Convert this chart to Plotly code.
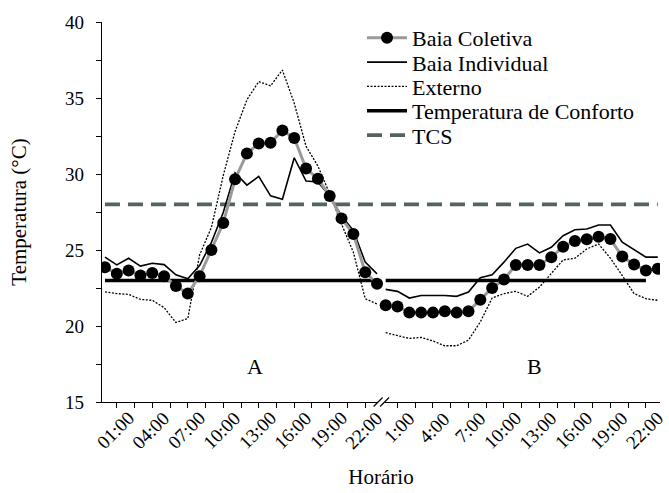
import plotly.graph_objects as go

# ---------------- data ----------------
coletiva_A = [23.87, 23.43, 23.65, 23.32, 23.48, 23.28, 22.63, 22.13, 23.28, 25.0, 26.77, 29.65,
              31.35, 32.0, 32.05, 32.87, 32.37, 30.36, 29.69, 28.56, 27.08, 26.05, 23.54, 22.78]
coletiva_B = [21.36, 21.29, 20.88, 20.88, 20.88, 20.97, 20.88, 20.97, 21.73, 22.5, 23.06, 24.02,
              24.02, 24.02, 24.53, 25.22, 25.59, 25.7, 25.87, 25.72, 24.57, 24.04, 23.65, 23.76]
individual_A = [24.53, 24.02, 24.46, 23.94, 24.13, 24.04, 23.37, 23.11, 23.98, 25.5, 27.47, 30.08,
                29.27, 29.84, 28.56, 28.34, 31.07, 29.54, 29.47, 28.56, 27.25, 26.27, 24.2, 23.43]
individual_B = [22.41, 22.28, 21.84, 22.01, 22.01, 22.01, 21.95, 22.24, 23.17, 23.37, 24.2, 25.11,
                25.39, 24.81, 25.18, 25.94, 26.33, 26.38, 26.64, 26.64, 25.51, 25.0, 24.53, 24.53]
externo_A = [22.24, 22.13, 22.08, 21.75, 21.69, 21.21, 20.23, 20.49, 24.67, 26.49, 29.9, 32.8,
             34.88, 36.08, 35.8, 36.84, 34.66, 31.82, 30.52, 28.7, 26.7, 24.85, 21.8, 21.45]
externo_B = [19.56, 19.36, 19.18, 19.25, 19.01, 18.7, 18.7, 19.07, 20.27, 21.84, 22.13, 22.28,
             21.95, 22.56, 23.43, 24.35, 24.46, 25.07, 25.39, 24.46, 23.32, 22.13, 21.8, 21.69]
conforto_A = [23.0] * 24
conforto_B = [23.0] * 23 + [None]
tcs_value = 28.0

labels_A = ["01:00", "04:00", "07:00", "10:00", "13:00", "16:00", "19:00", "22:00"]
labels_B = ["1:00", "4:00", "7:00", "10:00", "13:00", "16:00", "19:00", "22:00"]
y_ticks = [15, 20, 25, 30, 35, 40]

# ---------------- positions along the category axis ----------------
xA = [i for i in range(24)]
xB = [23.73 + i for i in range(24)]
x_range = [-0.25, 46.92]
ticks_pos = [xA[0] + 1 + 1.5 * k for k in range(15)] + [xB[0] + 1 + 1.5 * k for k in range(15)]
lab_pos_A = [xA[0] + 2.5 + 3 * k for k in range(8)]
lab_pos_B = [xB[0] + 2.5 + 3 * k for k in range(8)]

FONT = "Liberation Serif"
GREY = "#9a9a9a"
TCS_COLOR = "#56635d"
PLOT_TOP, PLOT_H, PLOT_W = 22, 382, 558


def to_paper_x(u):
    return (u - x_range[0]) / (x_range[1] - x_range[0])


def legend_at(row):
    # one legend box per entry, rows 24.5 px apart
    cy = 38 + 24.5 * row
    return dict(x=0.466, y=1 - (cy - PLOT_TOP) / PLOT_H, xanchor="left", yanchor="middle",
                bgcolor="rgba(0,0,0,0)", borderwidth=0, itemwidth=40,
                font=dict(family=FONT, size=22, color="black"))


fig = go.Figure()

# reference lines
fig.add_trace(go.Scatter(x=xA + xB, y=[tcs_value] * 48, mode="lines", name="TCS",
                         line=dict(color=TCS_COLOR, width=3.8, dash="15px,8px"),
                         legend="legend5"))
fig.add_trace(go.Scatter(x=xA, y=conforto_A, mode="lines", name="Temperatura de Conforto",
                         line=dict(color="black", width=3.5), legend="legend4"))
fig.add_trace(go.Scatter(x=xB, y=conforto_B, mode="lines", showlegend=False,
                         line=dict(color="black", width=3.5)))
# externo
fig.add_trace(go.Scatter(x=xA, y=externo_A, mode="lines", name="Externo",
                         line=dict(color="black", width=1.3, dash="2px,1.5px"), legend="legend3"))
fig.add_trace(go.Scatter(x=xB, y=externo_B, mode="lines", showlegend=False,
                         line=dict(color="black", width=1.3, dash="2px,1.5px")))
# individual
fig.add_trace(go.Scatter(x=xA, y=individual_A, mode="lines", name="Baia Individual",
                         line=dict(color="black", width=1.6), legend="legend2"))
fig.add_trace(go.Scatter(x=xB, y=individual_B, mode="lines", showlegend=False,
                         line=dict(color="black", width=1.6)))
# coletiva
fig.add_trace(go.Scatter(x=xA, y=coletiva_A, mode="lines+markers", name="Baia Coletiva",
                         line=dict(color=GREY, width=3),
                         marker=dict(color="black", size=12), legend="legend"))
fig.add_trace(go.Scatter(x=xB, y=coletiva_B, mode="lines+markers", showlegend=False,
                         line=dict(color=GREY, width=3),
                         marker=dict(color="black", size=12)))

annotations = []
for pos, txt in list(zip(lab_pos_A, labels_A)) + list(zip(lab_pos_B, labels_B)):
    annotations.append(dict(x=to_paper_x(pos), y=0, xref="paper", yref="paper", text=txt,
                            showarrow=False, textangle=-45, xanchor="right", yanchor="top",
                            xshift=6, yshift=-3,
                            font=dict(family=FONT, size=19, color="black")))
annotations.append(dict(x=(xA[0] + xA[-1]) / 2 + 1.2, y=17.33, xref="x", yref="y", text="A",
                        showarrow=False, font=dict(family=FONT, size=22, color="black")))
annotations.append(dict(x=(xB[0] + xB[-1]) / 2 + 1.1, y=17.33, xref="x", yref="y", text="B",
                        showarrow=False, font=dict(family=FONT, size=22, color="black")))

# axis break marks
brk = (xA[-1] + xB[0]) / 2
bp = to_paper_x(brk)
dx = 4.5 / PLOT_W
dy = 4.5 / PLOT_H
sep = 6.5 / PLOT_W
shapes = [
    dict(type="path", xref="paper", yref="paper",
         path=f"M{bp - sep/2 - dx},{-dy} L{bp - sep/2 + dx},{dy} L{bp + sep/2 + dx},{dy} L{bp + sep/2 - dx},{-dy} Z",
         fillcolor="white", line=dict(width=0), layer="above"),
    dict(type="line", xref="paper", yref="paper", x0=bp - sep/2 - dx, y0=-dy, x1=bp - sep/2 + dx, y1=dy,
         line=dict(color="black", width=1.2), layer="above"),
    dict(type="line", xref="paper", yref="paper", x0=bp + sep/2 - dx, y0=-dy, x1=bp + sep/2 + dx, y1=dy,
         line=dict(color="black", width=1.2), layer="above"),
]

fig.update_layout(
    width=669, height=493,
    margin=dict(l=102, r=9, t=22, b=89),
    paper_bgcolor="white", plot_bgcolor="white",
    font=dict(family=FONT, color="black"),
    showlegend=True,
    legend=legend_at(0), legend2=legend_at(1), legend3=legend_at(2),
    legend4=legend_at(3), legend5=legend_at(4),
    annotations=annotations,
    shapes=shapes,
)
fig.update_xaxes(range=x_range, showgrid=False, zeroline=False, showline=True, linecolor="black",
                 linewidth=1.3, tickmode="array", tickvals=ticks_pos, ticks="outside", ticklen=5,
                 tickcolor="black", tickwidth=1.2, showticklabels=False,
                 title=dict(text="Horário", font=dict(family=FONT, size=21, color="black"), standoff=62))
fig.update_yaxes(range=[15, 40], showgrid=False, zeroline=False, showline=True, linecolor="black",
                 linewidth=1.3, tickmode="array", tickvals=y_ticks, ticks="outside", ticklen=5,
                 tickcolor="black", tickwidth=1.2, ticklabelstandoff=8,
                 tickfont=dict(family=FONT, size=19, color="black"),
                 minor=dict(dtick=2.5, tick0=15, ticks="outside", ticklen=5, tickcolor="black", tickwidth=1.2),
                 title=dict(text="Temperatura (°C)", font=dict(family=FONT, size=21, color="black"), standoff=32))

fig.write_html("out.html")
